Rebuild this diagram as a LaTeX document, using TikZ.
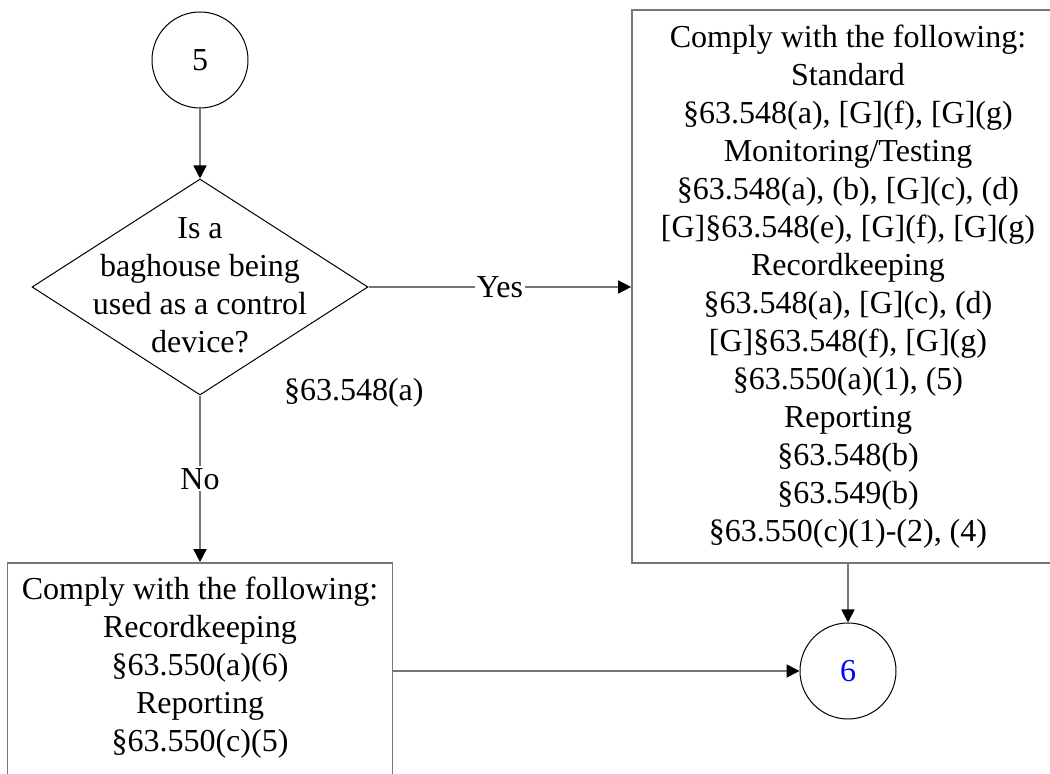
\documentclass[tikz,border=0pt]{standalone}
\usepackage{fontspec}
\setmainfont{Liberation Serif}
\definecolor{linegray}{RGB}{118,118,118}
\definecolor{offpageblue}{RGB}{0,0,255}
\usetikzlibrary{shapes.geometric,arrows.meta,positioning}

\begin{document}
\begin{tikzpicture}[x=0.5pt, y=-0.5pt,
    every node/.style={font=\fontsize{16}{19}\selectfont},
    offpage/.style={circle, draw=black, line width=0.5pt, minimum size=48pt, inner sep=0pt},
    decision/.style={diamond, draw=black, line width=0.5pt, minimum width=168pt, minimum height=108pt, inner sep=0pt},
    rulebox/.style={rectangle, draw=linegray, line width=0.85pt, align=center, inner sep=3pt},
    conn/.style={draw=linegray, line width=0.85pt, -{Triangle[length=6.5pt, width=6.5pt, color=black]}},
    answer/.style={fill=white, inner sep=1pt}]
    \useasboundingbox (0,0) rectangle (1050,774);
    \clip (0,0) rectangle (1050,774);

    % off-page connector in
    \node[offpage] (c5) at (200,60) {5};

    % question
    \node[decision] (dec) at (200,287) {};
    \node[align=center] (dectext) at (200,285) {Is a\\baghouse being\\used as a control\\device?};
    \node[anchor=west] (decref) at (277,393) {\S63.548(a)};

    % yes branch
    \node[rulebox, minimum width=216pt, minimum height=276.5pt] (yesbox) at (848,286.5) {Comply with the following:\\
        Standard\\
        \S63.548(a), [G](f), [G](g)\\
        Monitoring/Testing\\
        \S63.548(a), (b), [G](c), (d)\\
        \relax[G]\S63.548(e), [G](f), [G](g)\\
        Recordkeeping\\
        \S63.548(a), [G](c), (d)\\
        \relax[G]\S63.548(f), [G](g)\\
        \S63.550(a)(1), (5)\\
        Reporting\\
        \S63.548(b)\\
        \S63.549(b)\\
        \S63.550(c)(1)-(2), (4)};

    % no branch
    \node[rulebox, minimum width=192.5pt, minimum height=108pt] (nobox) at (200,671) {};
    \node[align=center] (notext) at (200,668) {Comply with the following:\\
        Recordkeeping\\
        \S63.550(a)(6)\\
        Reporting\\
        \S63.550(c)(5)};

    % off-page connector out
    \node[offpage, text=offpageblue] (c6) at (848,671) {6};

    \draw[conn] (c5) -- (dec);
    \draw[conn] (dec.east) -- node[answer] {Yes} (dec.east -| yesbox.west);
    \draw[conn] (dec) -- node[answer] {No} (nobox);
    \draw[conn] (yesbox) -- (c6);
    \draw[conn] (nobox) -- (c6);
\end{tikzpicture}
\end{document}
